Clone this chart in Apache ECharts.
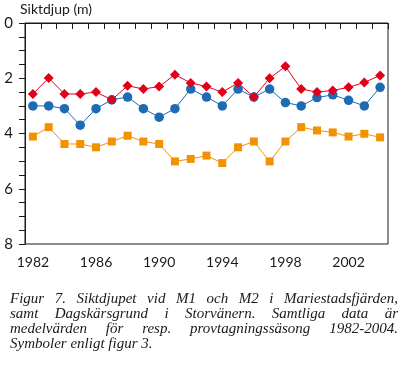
<!DOCTYPE html>
<html>
<head>
<meta charset="utf-8">
<script src="https://cdn.jsdelivr.net/npm/echarts@6/dist/echarts.min.js"></script>
<style>
html,body{margin:0;padding:0;background:#fff;}
#chart{width:404px;height:372px;}
</style>
</head>
<body>
<div id="chart"></div>
<script>
var years = ['1982','1983','1984','1985','1986','1987','1988','1989','1990','1991','1992','1993','1994','1995','1996','1997','1998','1999','2000','2001','2002','2003','2004'];
var redSeries = [2.57,1.99,2.57,2.57,2.5,2.78,2.27,2.39,2.3,1.87,2.17,2.3,2.5,2.17,2.68,2.0,1.57,2.39,2.5,2.44,2.33,2.15,1.9];
var blueSeries = [3.0,3.0,3.1,3.7,3.1,2.78,2.68,3.1,3.41,3.1,2.39,2.68,3.0,2.39,2.68,2.39,2.88,3.0,2.7,2.6,2.8,3.0,2.33];
var orangeSeries = [4.11,3.77,4.38,4.38,4.5,4.29,4.08,4.29,4.38,5.01,4.92,4.8,5.07,4.5,4.29,5.01,4.29,3.77,3.89,3.96,4.11,4.01,4.14];
var yTickLabels = [0,2,4,6,8];
var titleText = 'Siktdjup (m)';
var captionLines = [
  'Figur 7. Siktdjupet vid M1 och M2 i Mariestadsfjärden,',
  'samt Dagskärsgrund i Storvänern. Samtliga data är',
  'medelvärden för resp. provtagningssäsong 1982-2004.',
  'Symboler enligt figur 3.'
];

var RED = '#e1001a', BLUE = '#1d6bb3', ORANGE = '#f39200', INK = '#1a1a1a';
var sansFont = 'Lato';
var capFont = 'Liberation Serif';
var capSize = 15;

// caption words laid out with justification
var mctx = document.createElement('canvas').getContext('2d');
mctx.font = 'italic ' + capSize + 'px "' + capFont + '"';
var capLeft = 10, capRight = 398, capTop = 292, capLH = 15;
var graphics = [{
  type: 'text', left: 20, top: 2,
  style: {text: titleText, font: '14px ' + sansFont, fill: INK}
}];
captionLines.forEach(function(line, li){
  var words = line.split(' ');
  var widths = words.map(function(w){ return mctx.measureText(w).width; });
  var total = widths.reduce(function(a,b){return a+b;},0);
  var justify = li < captionLines.length - 1;
  var gap = justify ? (capRight - capLeft - total) / (words.length - 1) : mctx.measureText(' ').width;
  var x = capLeft;
  words.forEach(function(w, i){
    graphics.push({
      type: 'text', x: x, y: capTop + li*capLH,
      style: {text: w, font: 'italic ' + capSize + 'px "' + capFont + '"', fill: INK, textVerticalAlign: 'top'}
    });
    x += widths[i] + gap;
  });
});

var chart = echarts.init(document.getElementById('chart'), null, {renderer: 'canvas'});
chart.setOption({
  animation: false,
  backgroundColor: '#fff',
  grid: {left: 25, right: 16, top: 23, bottom: 128, show: true, borderColor: INK, borderWidth: 1, containLabel: false},
  xAxis: {
    type: 'category', data: years, boundaryGap: true,
    axisLine: {lineStyle: {color: INK, width: 1}},
    axisTick: {show: true, interval: 0, length: 6, lineStyle: {color: INK}},
    axisLabel: {interval: 3, color: INK, fontSize: 14, fontFamily: sansFont, margin: 11},
    splitLine: {show: false}
  },
  yAxis: {
    type: 'value', inverse: true, min: 0, max: 8, interval: 0.5,
    axisLine: {show: true, lineStyle: {color: INK, width: 1}},
    axisTick: {show: true, length: 6, lineStyle: {color: INK}},
    axisLabel: {
      color: INK, fontSize: 15, fontFamily: sansFont, margin: 12,
      formatter: function(v){ return yTickLabels.indexOf(v) >= 0 ? String(v) : ''; }
    },
    splitLine: {show: false}
  },
  graphic: graphics,
  series: [
    {type: 'line', data: orangeSeries, symbol: 'rect', symbolSize: 8,
     itemStyle: {color: ORANGE}, lineStyle: {color: ORANGE, width: 1}, z: 2},
    {type: 'line', data: blueSeries, symbol: 'circle', symbolSize: 9.5,
     itemStyle: {color: BLUE}, lineStyle: {color: BLUE, width: 1}, z: 3},
    {type: 'line', data: redSeries, symbol: 'diamond', symbolSize: 10,
     itemStyle: {color: RED}, lineStyle: {color: RED, width: 1}, z: 4}
  ]
});
</script>
</body>
</html>
